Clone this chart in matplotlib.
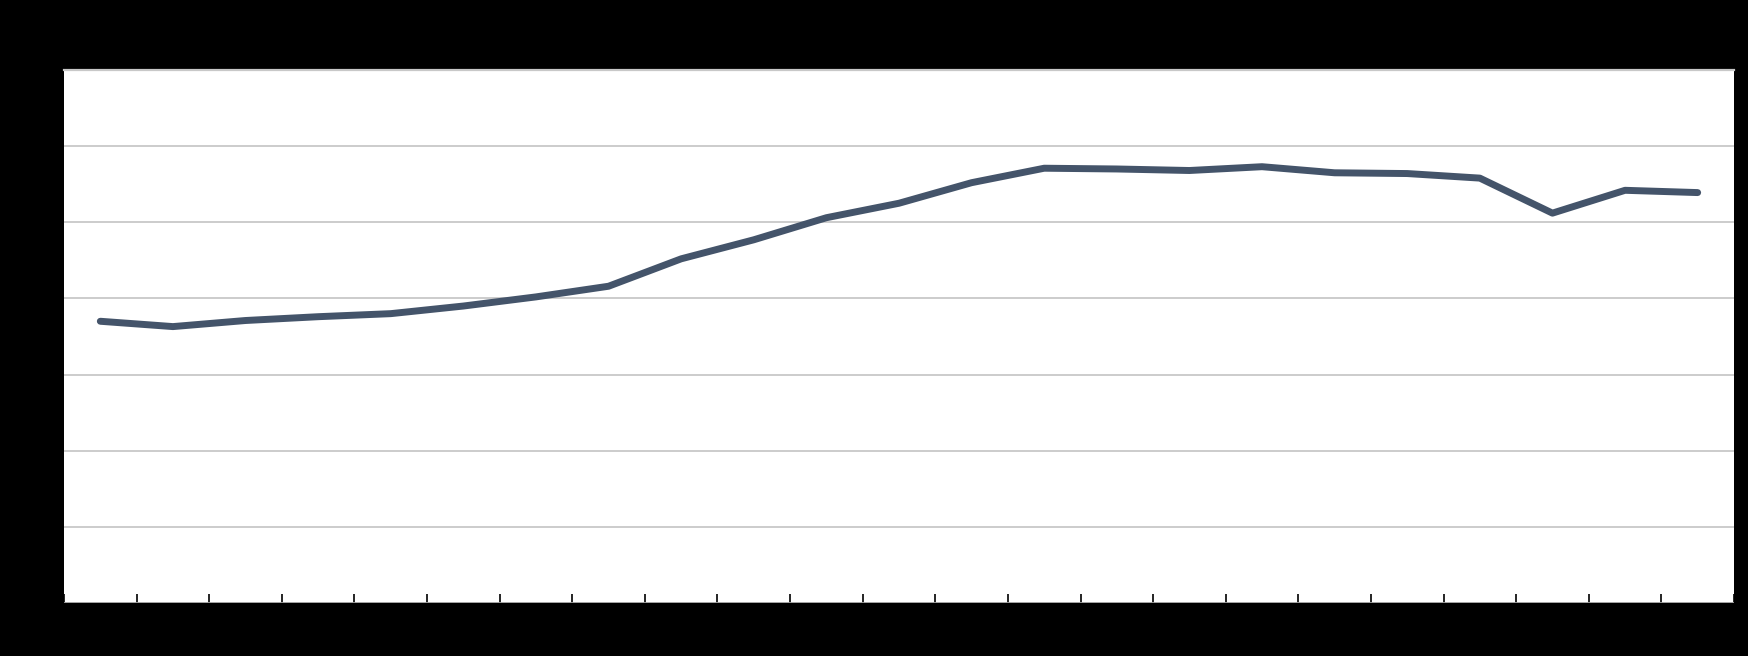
import numpy as np
import matplotlib
matplotlib.use("Agg")
import matplotlib.pyplot as plt

# values (axis 0..70, grid every 10)
periods = list(range(1, 24))
values = [37.0, 36.3, 37.1, 37.6, 38.0, 39.0, 40.2, 41.6, 45.2, 47.7, 50.6,
          52.5, 55.2, 57.1, 57.0, 56.8, 57.3, 56.5, 56.4, 55.8, 51.2, 54.2, 53.9]
y_ticks = [0, 10, 20, 30, 40, 50, 60, 70]

fig = plt.figure(figsize=(17.49, 6.56), dpi=100, facecolor="black")
ax = fig.add_axes([0.0366, 0.0808, 0.9548, 0.8125])
ax.set_facecolor("white")

x = np.arange(len(periods))
ax.plot(x, values, color="#44546A", lw=5.0, solid_capstyle="round",
        solid_joinstyle="round", zorder=3)

ax.set_xlim(-0.5, len(periods) - 0.5)
ax.set_ylim(y_ticks[0], y_ticks[-1])
ax.set_yticks(y_ticks)
ax.set_xticks(np.arange(-0.5, len(periods), 1.0))
ax.grid(axis="y", color="#C8C8C8", lw=1.3, zorder=1)
ax.set_axisbelow(True)

for s in ["left", "right"]:
    ax.spines[s].set_visible(False)
ax.spines["top"].set_color("#C8C8C8")
ax.spines["top"].set_linewidth(1.6)
ax.spines["bottom"].set_color("black")
ax.spines["bottom"].set_linewidth(1.0)

ax.tick_params(axis="x", direction="in", length=6.5, width=1.2, color="black",
               labelbottom=False)
ax.tick_params(axis="y", length=0, labelleft=False)

fig.savefig("out.png", dpi=100, facecolor="black")
